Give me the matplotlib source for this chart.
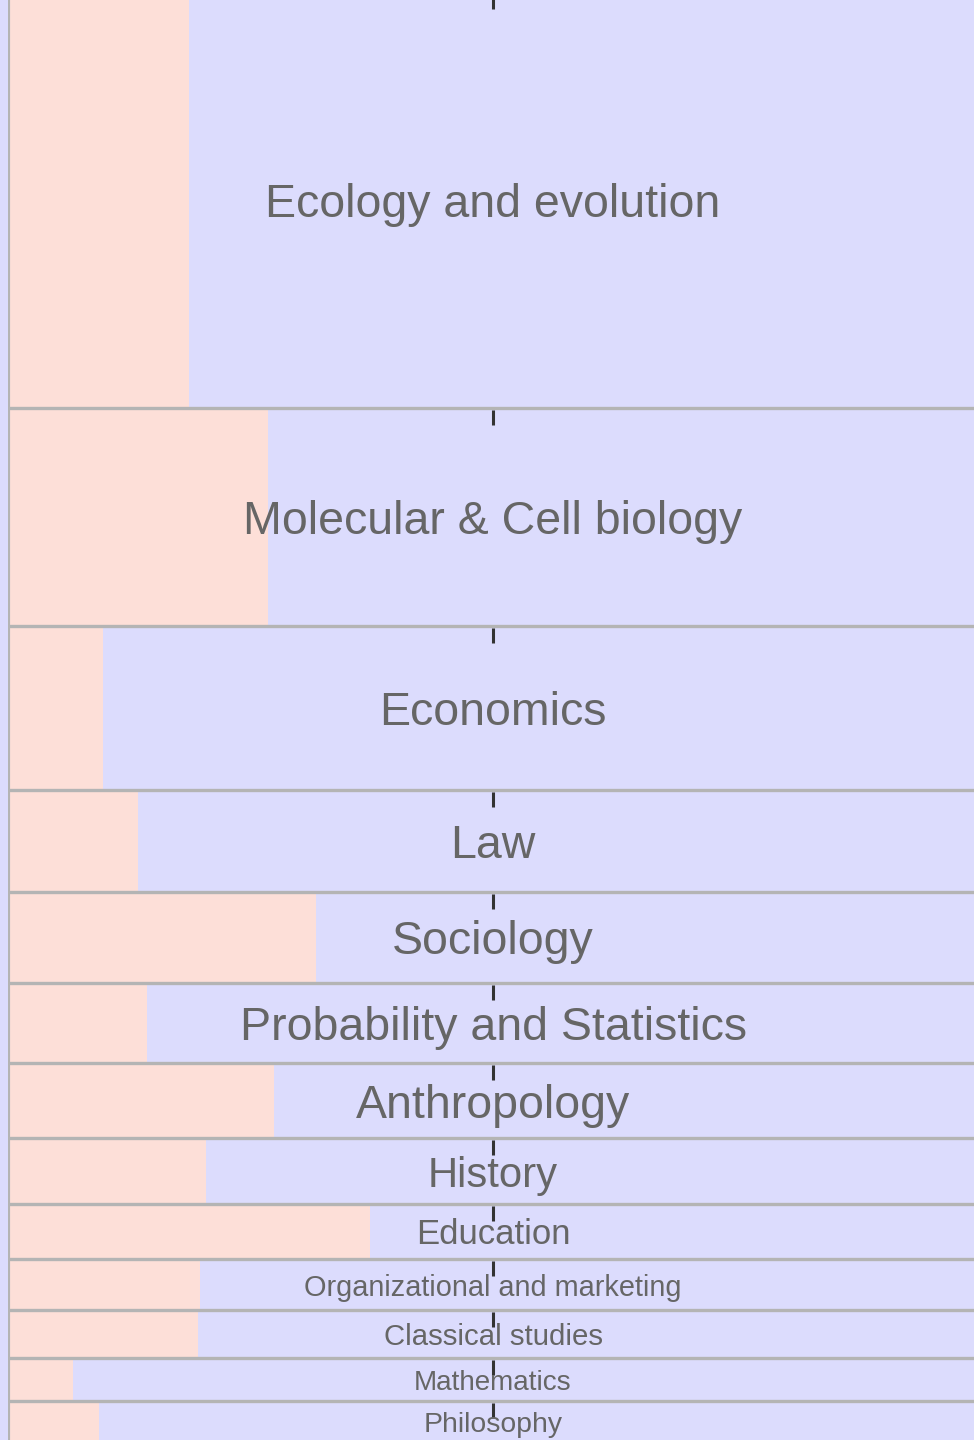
import matplotlib
matplotlib.use('Agg')
import matplotlib.pyplot as plt

# fields, relative size (row height) and share of female authors
fields = ['Ecology and evolution', 'Molecular & Cell biology', 'Economics', 'Law',
          'Sociology', 'Probability and Statistics', 'Anthropology', 'History',
          'Education', 'Organizational and marketing', 'Classical studies',
          'Mathematics', 'Philosophy']
size = [416, 218, 164, 102, 91, 80, 75, 66, 55, 51, 48, 43, 42]
female = [0.187, 0.268, 0.098, 0.134, 0.318, 0.143, 0.274, 0.204, 0.373,
          0.198, 0.196, 0.067, 0.094]

# label font sizes (styling)
label_fs = [33.5, 33.5, 33.5, 33.5, 33.5, 33.5, 33.5, 30.2, 25.0, 20.8, 21.2, 20.1, 20.4]

pink = '#fddfd8'
blue = '#dcdcfd'
grid = '#b4b4b4'

W, H = 974, 1440
fig = plt.figure(figsize=(W / 100, H / 100), dpi=100, facecolor=blue)
total = sum(size)
top_px = -8
ax = fig.add_axes([8 / W, (H - (top_px + total)) / H, 970 / W, total / H])
ax.set_xlim(0, 1)
ax.set_ylim(total, 0)
ax.axis('off')

y0 = 0
for name, h, f, fs in zip(fields, size, female, label_fs):
    ax.barh(y0, f, height=h, left=0, align='edge', color=pink, linewidth=0)
    ax.barh(y0, 1 - f, height=h, left=f, align='edge', color=blue, linewidth=0)
    ax.axhline(y0, color=grid, lw=2.4, zorder=3)
    # small tick at top of each row
    ax.plot([0.5, 0.5], [y0 + 2, y0 + 17], color='#333333', lw=2.2,
            solid_capstyle='butt', zorder=4)
    ax.text(0.5, y0 + h / 2, name, ha='center', va='center_baseline', fontsize=fs,
            color='#666666', family='Liberation Sans', zorder=5)
    y0 += h

ax.axvline(0, color=grid, lw=3, zorder=3)

fig.savefig('out.png', dpi=100, facecolor=fig.get_facecolor())
